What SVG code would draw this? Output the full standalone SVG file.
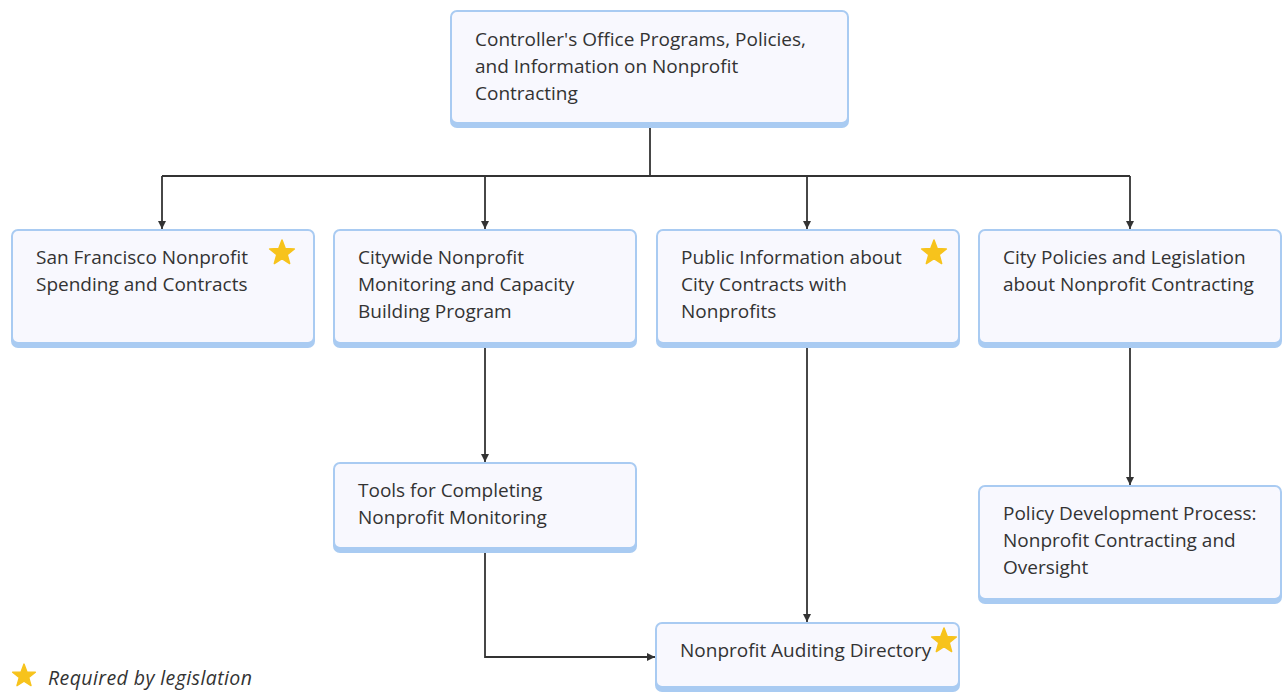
<svg xmlns="http://www.w3.org/2000/svg" width="1283" height="692" viewBox="0 0 1283 692">
<style>
.sh{fill:#a9cbf2}
.bx{fill:#f8f8fe;stroke:#a9cbf2;stroke-width:2}
.t{font-family:"Open Sans","Noto Sans",sans-serif;font-size:19px;fill:#333}
.lg{font-family:"Open Sans","Noto Sans",sans-serif;font-size:19.5px;fill:#333;font-style:italic}
.c{fill:none;stroke:#333;stroke-width:1.8}
.st{fill:#f7c31c;stroke:#f7c31c;stroke-width:1.5;stroke-linejoin:round}
</style>
<defs>
<marker id="ah" viewBox="0 0 10 10" refX="10" refY="5" markerWidth="8" markerHeight="8" markerUnits="userSpaceOnUse" orient="auto">
<path d="M0,0 L10,5 L0,10 Z" fill="#333"/>
</marker>
<path id="star" d="M0,-13 L3.23,-4.45 L12.36,-4.02 L5.23,1.7 L7.64,10.52 L0,5.5 L-7.64,10.52 L-5.23,1.7 L-12.36,-4.02 L-3.23,-4.45 Z"/>
</defs>
<rect width="1283" height="692" fill="#fff"/>
<g id="connectors">
<path class="c" d="M650,128 V176"/>
<path class="c" d="M162,176 H1130"/>
<path class="c" d="M162,176 V229" marker-end="url(#ah)"/>
<path class="c" d="M485,176 V229" marker-end="url(#ah)"/>
<path class="c" d="M807,176 V229" marker-end="url(#ah)"/>
<path class="c" d="M1130,176 V229" marker-end="url(#ah)"/>
<path class="c" d="M485,348 V462" marker-end="url(#ah)"/>
<path class="c" d="M807,348 V622" marker-end="url(#ah)"/>
<path class="c" d="M1130,348 V485" marker-end="url(#ah)"/>
<path class="c" d="M485,553 V657 H655" marker-end="url(#ah)"/>
</g>
<g id="n-top">
<rect class="sh" x="450" y="14" width="399" height="114" rx="7"/>
<rect class="bx" x="451" y="11" width="397" height="112" rx="6"/>
<text class="t" x="475" y="46">Controller's Office Programs, Policies,</text>
<text class="t" x="475" y="73">and Information on Nonprofit</text>
<text class="t" x="475" y="100">Contracting</text>
</g>
<g id="n-sf">
<rect class="sh" x="11" y="233" width="304" height="115" rx="7"/>
<rect class="bx" x="12" y="230" width="302" height="113" rx="6"/>
<text class="t" x="36" y="264">San Francisco Nonprofit</text>
<text class="t" x="36" y="291">Spending and Contracts</text>
<use href="#star" class="st" x="282" y="253"/>
</g>
<g id="n-citywide">
<rect class="sh" x="333" y="233" width="304" height="115" rx="7"/>
<rect class="bx" x="334" y="230" width="302" height="113" rx="6"/>
<text class="t" x="358" y="264">Citywide Nonprofit</text>
<text class="t" x="358" y="291">Monitoring and Capacity</text>
<text class="t" x="358" y="318">Building Program</text>
</g>
<g id="n-public">
<rect class="sh" x="656" y="233" width="304" height="115" rx="7"/>
<rect class="bx" x="657" y="230" width="302" height="113" rx="6"/>
<text class="t" x="681" y="264">Public Information about</text>
<text class="t" x="681" y="291">City Contracts with</text>
<text class="t" x="681" y="318">Nonprofits</text>
<use href="#star" class="st" x="934" y="253"/>
</g>
<g id="n-policies">
<rect class="sh" x="978" y="233" width="304" height="115" rx="7"/>
<rect class="bx" x="979" y="230" width="302" height="113" rx="6"/>
<text class="t" x="1003" y="264">City Policies and Legislation</text>
<text class="t" x="1003" y="291">about Nonprofit Contracting</text>
</g>
<g id="n-tools">
<rect class="sh" x="333" y="466" width="304" height="87" rx="7"/>
<rect class="bx" x="334" y="463" width="302" height="85" rx="6"/>
<text class="t" x="358" y="497">Tools for Completing</text>
<text class="t" x="358" y="524">Nonprofit Monitoring</text>
</g>
<g id="n-policydev">
<rect class="sh" x="978" y="489" width="304" height="115" rx="7"/>
<rect class="bx" x="979" y="486" width="302" height="113" rx="6"/>
<text class="t" x="1003" y="520">Policy Development Process:</text>
<text class="t" x="1003" y="547">Nonprofit Contracting and</text>
<text class="t" x="1003" y="574">Oversight</text>
</g>
<g id="n-auditing">
<rect class="sh" x="655" y="626" width="305" height="66" rx="7"/>
<rect class="bx" x="656" y="623" width="303" height="64" rx="6"/>
<text class="t" x="680" y="657">Nonprofit Auditing Directory</text>
<use href="#star" class="st" x="944" y="641"/>
</g>
<g id="legend">
<use href="#star" class="st" transform="translate(24,676) scale(0.92)"/>
<text class="lg" x="48" y="685" textLength="204" lengthAdjust="spacing">Required by legislation</text>
</g>
</svg>
